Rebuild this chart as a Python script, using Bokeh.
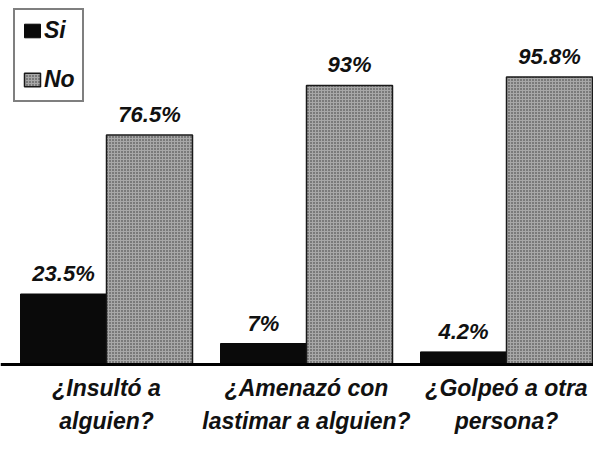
from bokeh.plotting import figure
from bokeh.models import ColumnDataSource, Range1d, Span, Legend, LegendItem
from bokeh.core.properties import value
from bokeh.embed import file_html
from bokeh.resources import INLINE

categories = ["¿Insultó a\nalguien?", "¿Amenazó con\nlastimar a alguien?", "¿Golpeó a otra\npersona?"]
series = ["Si", "No"]
si_values = [23.5, 7, 4.2]
no_values = [76.5, 93, 95.8]

FONT = "Liberation Sans"
idx = list(range(len(categories)))
bw = 0.43

src_si = ColumnDataSource(dict(x=[i - bw / 2 for i in idx], top=si_values,
                               lab=[f"{v:g}%" for v in si_values]))
src_no = ColumnDataSource(dict(x=[i + bw / 2 for i in idx], top=no_values,
                               lab=[f"{v:g}%" for v in no_values]))
src_cat = ColumnDataSource(dict(x=idx, y=[0] * len(idx), text=categories))

p = figure(width=593, height=434, output_backend="svg", toolbar_location=None,
           x_range=Range1d(-0.53, 2.435), y_range=Range1d(-23.33, 121.33),
           min_border=0, outline_line_color=None)
p.axis.visible = False
p.grid.visible = False

r_si = p.vbar(x="x", top="top", width=bw, bottom=0, source=src_si,
              fill_color="#0a0a0a", line_color="#0a0a0a", line_width=1)
r_no = p.vbar(x="x", top="top", width=bw, bottom=0, source=src_no,
              fill_color="#a8a8a8", line_color="#1a1a1a", line_width=1.5,
              hatch_pattern="dot", hatch_color="#333333", hatch_scale=3, hatch_weight=1)

for s in (src_si, src_no):
    p.text(x="x", y="top", text="lab", source=s, text_align="center", text_baseline="bottom",
           y_offset=-8, text_font=value(FONT), text_font_style="bold italic",
           text_font_size="22px", text_color="#111111")

p.text(x="x", y="y", text="text", source=src_cat, text_align="center", text_baseline="top",
       y_offset=10, text_font=value(FONT), text_font_style="bold italic",
       text_font_size="23px", text_color="#111111", text_line_height=1.27)

p.add_layout(Span(location=0, dimension="width", line_color="black", line_width=3))

legend = Legend(items=[LegendItem(label=series[0], renderers=[r_si]),
                       LegendItem(label=series[1], renderers=[r_no])],
                location=(13, 434 - 102), orientation="vertical",
                label_text_font=FONT, label_text_font_style="bold italic",
                label_text_font_size="23px", label_text_color="#111111",
                glyph_width=20, glyph_height=17, label_height=20, label_standoff=2,
                spacing=22, padding=7, margin=0,
                border_line_color="black", border_line_width=2,
                background_fill_alpha=1)
p.add_layout(legend, "center")

open("out.html", "w").write(file_html(p, INLINE))
